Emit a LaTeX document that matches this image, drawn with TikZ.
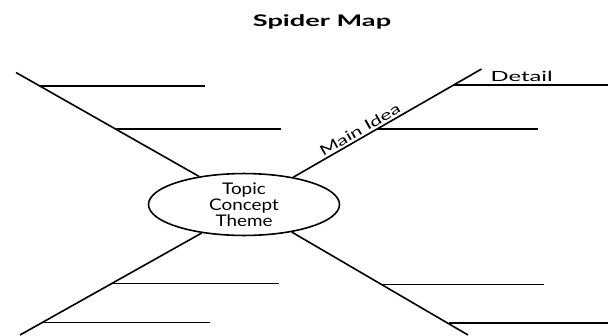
\documentclass[tikz,border=0pt]{standalone}
\usepackage{fontspec}
\setmainfont{Lato}
\usetikzlibrary{shapes.geometric}
\newcommand{\widen}[2]{\scalebox{#1}[1]{#2}}
\begin{document}
\begin{tikzpicture}[x=1pt,y=-1pt,
  spoke/.style={line width=1.6pt},
  detailline/.style={line width=1.5pt},
  hub/.style={ellipse, draw, line width=1.6pt, minimum width=191pt, minimum height=59pt, inner sep=0pt, align=center, font=\fontsize{16}{16}\selectfont},
  lbl/.style={inner sep=0pt, font=\fontsize{14}{16}\selectfont},
  titlestyle/.style={inner sep=0pt, font=\fontsize{16}{18}\selectfont\bfseries}]
\useasboundingbox[fill=white] (0,0) rectangle (608,335);

\node[titlestyle, anchor=base] (title) at (322,26.7) {\widen{1.7}{Spider Map}};

\node[hub] (c) at (244,204.5) {\widen{1.18}{Topic}\\\widen{1.18}{Concept}\\\widen{1.18}{Theme}};

% spoke ends
\coordinate (tl) at (16,72.5);
\coordinate (tr) at (481.5,69);
\coordinate (bl) at (20,335);
\coordinate (br) at (468,335);

\draw[spoke] (c.148.6) -- (tl);
\draw[spoke] (c.29.7) -- (tr)
  node[lbl, pos=0.375, sloped, anchor=south, yshift=2pt] (mainidea) {\widen{1.5}{Main Idea}};
\draw[spoke] (c.214.8) -- (bl);
\draw[spoke] (c.330.5) -- (br);

% detail lines: starts on spokes, free ends
\coordinate (a1) at (39.8,86);   \coordinate (a1e) at (205,86);
\coordinate (a2) at (115.5,129); \coordinate (a2e) at (281,129);
\coordinate (b1) at (453,85);    \coordinate (b1e) at (608,85);
\coordinate (b2) at (377,129);   \coordinate (b2e) at (538,129);
\coordinate (d1) at (113,283.3); \coordinate (d1e) at (278.5,283.3);
\coordinate (d2) at (42.8,322.3);\coordinate (d2e) at (210,322.3);
\coordinate (e1) at (382,284.3); \coordinate (e1e) at (544,284.3);
\coordinate (e2) at (449,323);   \coordinate (e2e) at (608,323);

\foreach \s in {a1,a2,b1,b2,d1,d2,e1,e2}{
  \draw[detailline] (\s) -- (\s e);
}

\node[lbl, anchor=base] (detail) at (521.7,81.7) {\widen{1.7}{Detail}};
\end{tikzpicture}
\end{document}
